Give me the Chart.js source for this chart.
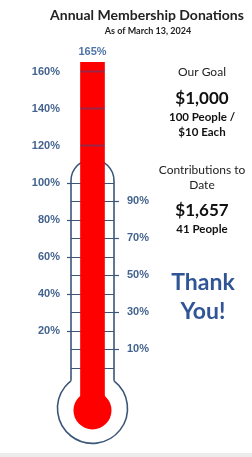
<!DOCTYPE html>
<html><head><meta charset="utf-8">
<script src="https://cdn.jsdelivr.net/npm/chart.js@4"></script>
<style>html,body{margin:0;padding:0;background:#fff;}#wrap{width:252px;height:457px;position:relative;}</style>
</head><body><div id="wrap"><canvas id="c" width="252" height="457"></canvas></div>
<script>
const categories = ['Donations'];
const percentRaised = [165];
const leftTicks = [20, 40, 60, 80, 100, 120, 140, 160];
const rightTicks = [10, 30, 50, 70, 90];
const tubeTicks = [0, 10, 20, 30, 40, 50, 60, 70, 80, 90, 100];
const barLines = [120, 140, 160];
const titleText = 'Annual Membership Donations';
const subtitleText = 'As of March 13, 2024';
const goalLines = ['Our Goal', '$1,000', '100 People /', '$10 Each'];
const contribLines = ['Contributions to', 'Date', '$1,657', '41 People'];
const thanksLines = ['Thank', 'You!'];

const OUTLINE = '#3b5678';
const LABEL = '#44638f';

const thermo = {
  id: 'thermo',
  beforeDatasetsDraw(chart) {
    const {ctx, chartArea: a, scales: {y}} = chart;
    const L = a.left, R = a.right, cx = (L + R) / 2, hw = (R - L) / 2;
    const topY = y.getPixelForValue(101);
    const bcy = y.getPixelForValue(-22), br = 35;
    const dy = Math.sqrt(br * br - hw * hw);
    const wallBottom = bcy - dy;
    ctx.save();
    ctx.strokeStyle = OUTLINE; ctx.lineWidth = 1.6;
    ctx.beginPath();
    ctx.moveTo(L, wallBottom); ctx.lineTo(L, topY);
    ctx.arc(cx, topY, hw, Math.PI, 0);
    ctx.lineTo(R, wallBottom);
    ctx.stroke();
    ctx.beginPath();
    ctx.arc(cx, bcy, br, Math.atan2(-dy, hw), Math.atan2(-dy, -hw) + Math.PI * 2);
    ctx.stroke();
    ctx.lineWidth = 1.2;
    tubeTicks.forEach(v => {
      const py = Math.round(y.getPixelForValue(v)) + 0.5;
      ctx.beginPath(); ctx.moveTo(L, py); ctx.lineTo(R, py); ctx.stroke();
    });
    leftTicks.filter(v => v <= 100).forEach(v => {
      const py = Math.round(y.getPixelForValue(v)) + 0.5;
      ctx.beginPath(); ctx.moveTo(L - 4, py); ctx.lineTo(L, py); ctx.stroke();
    });
    rightTicks.forEach(v => {
      const py = Math.round(y.getPixelForValue(v)) + 0.5;
      ctx.beginPath(); ctx.moveTo(R, py); ctx.lineTo(R + 5, py); ctx.stroke();
    });
    ctx.restore();
  },
  afterDatasetsDraw(chart) {
    const {ctx, chartArea: a, scales: {y}} = chart;
    const L = a.left, R = a.right, cx = (L + R) / 2;
    const bar = chart.getDatasetMeta(0).data[0];
    ctx.save();
    ctx.fillStyle = '#ff0000';
    ctx.beginPath();
    ctx.arc(cx, y.getPixelForValue(-22) + 2, 19, 0, Math.PI * 2);
    ctx.fill();
    ctx.strokeStyle = 'rgba(70,70,130,0.55)'; ctx.lineWidth = 2;
    barLines.forEach(v => {
      const py = y.getPixelForValue(v);
      ctx.beginPath(); ctx.moveTo(bar.x - bar.width / 2, py); ctx.lineTo(bar.x + bar.width / 2, py); ctx.stroke();
    });
    ctx.fillStyle = '#4f74a8';
    ctx.font = 'bold 11px "Liberation Sans", Arial';
    ctx.textAlign = 'center'; ctx.textBaseline = 'middle';
    ctx.fillText(percentRaised[0] + '%', bar.x, bar.y - 10);
    ctx.restore();
  },
  afterDraw(chart) {
    const {ctx} = chart;
    ctx.save();
    ctx.textAlign = 'center'; ctx.textBaseline = 'middle';
    ctx.fillStyle = '#222';
    ctx.font = 'bold 14px Lato';
    ctx.fillText(titleText, 147, 15);
    ctx.font = 'bold 9px Lato';
    ctx.fillText(subtitleText, 148, 31);
    const px = 202;
    ctx.fillStyle = '#222';
    ctx.font = '12px Lato'; ctx.fillText(goalLines[0], px, 72);
    ctx.fillStyle = '#111';
    ctx.font = 'bold 17px Lato'; ctx.fillText(goalLines[1], px, 99);
    ctx.font = 'bold 11.5px Lato'; ctx.fillText(goalLines[2], px, 117); ctx.fillText(goalLines[3], px, 132);
    ctx.fillStyle = '#222';
    ctx.font = '12px Lato'; ctx.fillText(contribLines[0], px, 170); ctx.fillText(contribLines[1], px, 185);
    ctx.fillStyle = '#111';
    ctx.font = 'bold 17px Lato'; ctx.fillText(contribLines[2], px, 211);
    ctx.font = 'bold 11.5px Lato'; ctx.fillText(contribLines[3], px, 229);
    ctx.fillStyle = '#2f5597';
    ctx.font = 'bold 23px Lato'; ctx.fillText(thanksLines[0], 203, 283); ctx.fillText(thanksLines[1], 203, 312);
    ctx.fillStyle = '#ececec';
    ctx.fillRect(0, 453, 252, 4);
    ctx.restore();
  }
};

new Chart(document.getElementById('c'), {
  type: 'bar',
  data: {
    labels: categories,
    datasets: [{
      data: percentRaised,
      backgroundColor: '#ff0000',
      barThickness: 24,
      base: -20,
      borderWidth: 0
    }]
  },
  options: {
    responsive: false,
    animation: false,
    layout: { padding: { top: 40, bottom: 0, left: 0, right: 98 } },
    plugins: { legend: { display: false }, tooltip: { enabled: false } },
    scales: {
      x: { display: false },
      y: {
        position: 'left', min: -42, max: 177,
        afterBuildTicks: s => { s.ticks = leftTicks.map(v => ({ value: v })); },
        afterFit: s => { s.width = 71; },
        grid: { display: false }, border: { display: false },
        ticks: { padding: 3, color: LABEL, font: { family: '"Liberation Sans", Arial', size: 11, weight: 'bold' }, callback: v => v + '%' }
      },
      y2: {
        position: 'right', min: -42, max: 177,
        afterBuildTicks: s => { s.ticks = rightTicks.map(v => ({ value: v })); },
        afterFit: s => { s.width = 40; },
        grid: { display: false }, border: { display: false },
        ticks: { padding: 5, color: LABEL, font: { family: '"Liberation Sans", Arial', size: 11, weight: 'bold' }, callback: v => v + '%' }
      }
    }
  },
  plugins: [thermo]
});
</script></body></html>
